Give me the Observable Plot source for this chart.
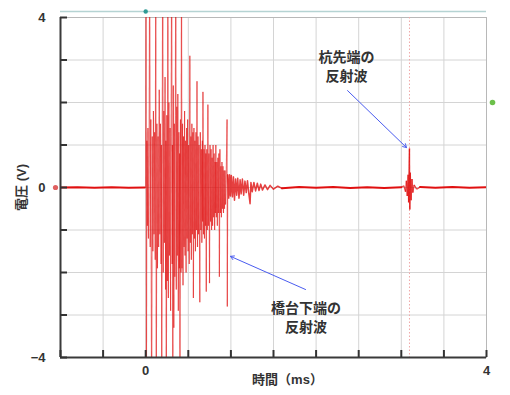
<!DOCTYPE html>
<html><head><meta charset="utf-8">
<script src="https://cdn.jsdelivr.net/npm/d3@7"></script>
<script src="https://cdn.jsdelivr.net/npm/@observablehq/plot@0.6"></script>
<style>body{margin:0;background:#fff} svg{display:block}</style>
</head><body><div id="chart"></div>
<script>
// time (ms), voltage (V)
const preTrigger = [[-1, 0], [-0.8, 0.005], [-0.6, -0.005], [-0.4, 0.005], [-0.2, -0.005], [-0.01, 0]];
const burst = [
  [0.000, 0], [0.004, 6], [0.008, -6], [0.014, 1.1], [0.020, -0.9], [0.026, 1.4], [0.032, -1.2], [0.040, 0.9], [0.047, 6], [0.053, -1.4], [0.060, 1.6], [0.070, -6], [0.077, 1.2], [0.084, -1.5], [0.091, 1.8], [0.098, -1.1],
  [0.105, 1.3], [0.112, -1.7], [0.118, 6], [0.124, -6], [0.131, 1.5], [0.138, -1.9], [0.145, 1.2], [0.152, -1.4], [0.159, 2.3], [0.166, -1.1], [0.173, 1.5], [0.180, -1.8], [0.184, 1.0], [0.188, -6], [0.194, 1.4], [0.200, 6], [0.206, -2.0],
  [0.213, 1.8], [0.220, -1.3], [0.227, 2.6], [0.234, -2.4], [0.237, 1.1], [0.242, -6], [0.248, 1.7], [0.254, -2.2], [0.260, 6], [0.266, -2.6], [0.272, 2.0], [0.279, -1.6], [0.286, 1.4], [0.292, -2.9], [0.298, 1.2],
  [0.305, 6], [0.311, -1.8], [0.314, 1.0], [0.318, -6], [0.324, 2.4], [0.330, -3.3], [0.336, 1.5], [0.342, -2.1], [0.348, 1.7], [0.353, 6], [0.359, -2.4], [0.365, 1.9], [0.371, -1.6], [0.377, 2.2], [0.383, -2.9], [0.389, 1.3], [0.395, -1.9], [0.398, 0.8], [0.402, -6], [0.408, 1.6], [0.414, -2.0], [0.420, 6], [0.426, -1.9],
  [0.432, 1.5], [0.438, -2.3], [0.444, 1.2], [0.450, -1.4], [0.456, 1.8], [0.462, -1.6], [0.468, 1.1], [0.474, -2.0], [0.480, 1.4], [0.486, -1.2], [0.492, 1.6], [0.498, -1.5], [0.504, 1.0], [0.511, -1.8], [0.518, 3.1], [0.524, -1.3], [0.530, 1.2], [0.536, -1.7], [0.542, 1.5], [0.548, -1.1], [0.554, 1.3], [0.560, -2.6], [0.566, 1.4], [0.572, -1.2], [0.578, 1.1], [0.584, -1.5], [0.590, 1.3], [0.596, -1.0], [0.602, 2.5], [0.608, -1.4],
  [0.614, 1.2], [0.620, -1.1], [0.626, 1.0], [0.635, -2.7], [0.641, 1.3], [0.647, -1.0], [0.653, 0.9], [0.659, -1.3], [0.665, 1.1], [0.668, -0.8], [0.672, 2.25], [0.678, -1.1], [0.684, 0.9], [0.690, -1.2], [0.696, 1.0], [0.702, -0.9], [0.706, 0.8], [0.711, -2.45], [0.717, 0.9], [0.723, -1.0], [0.730, 1.95], [0.736, -0.9], [0.742, 0.8], [0.749, -2.25], [0.755, 1.0], [0.761, -0.8], [0.767, 0.9], [0.773, -1.0], [0.779, 0.7], [0.785, -0.9], [0.791, 1.0], [0.797, -0.7],
  [0.803, 0.8], [0.809, -1.0], [0.815, 0.6], [0.818, -0.6], [0.823, 1.0], [0.829, -0.7], [0.835, 0.6], [0.841, -0.9], [0.847, 0.7], [0.853, -0.6], [0.859, 0.8], [0.865, -2.1], [0.871, 0.9], [0.877, -0.6], [0.883, 0.5], [0.889, -0.7], [0.895, 0.6], [0.901, -0.5], [0.907, 0.5], [0.913, -0.6], [0.919, 0.4], [0.925, -0.5], [0.931, 0.4], [0.937, -0.4], [0.945, 0.3], [0.955, 1.6], [0.958, -2.8], [0.963, 0.3]
];
const tail = [
  [0.963, 0.3], [0.975, -0.25], [0.985, 0.3], [0.995, -0.2], [1.005, 0.28], [1.018, -0.22], [1.03, 0.25], [1.042, -0.3], [1.055, 0.2], [1.068, -0.18], [1.08, 0.22], [1.095, -0.25], [1.108, 0.18], [1.12, -0.15], [1.135, 0.2], [1.15, -0.18], [1.165, 0.15], [1.18, -0.12], [1.195, 0.16], [1.21, -0.14], [1.225, -0.38], [1.235, 0.12], [1.25, -0.1], [1.27, 0.12], [1.29, -0.08], [1.31, 0.1], [1.33, -0.07], [1.35, 0.08], [1.37, -0.06], [1.40, 0.06], [1.43, -0.05], [1.46, 0.05], [1.50, -0.04], [1.55, 0.03], [1.60, -0.02]
];
const quietMid = [[1.60, -0.02], [1.8, 0.01], [2.0, -0.005], [2.2, 0.01], [2.4, -0.01], [2.6, 0.005], [2.8, -0.01], [3.0, 0.005]];
const echo = [
  [3.00, 0.005], [3.03, 0.04], [3.05, -0.1], [3.06, 0.16], [3.07, -0.2], [3.08, 0.3], [3.086, -0.35], [3.091, 0.45], [3.096, 0.92], [3.100, -0.52], [3.105, 0.35], [3.115, -0.3], [3.125, 0.2], [3.135, -0.12], [3.15, 0.06], [3.18, -0.04], [3.22, 0.01]
];
const quietEnd = [[3.22, 0.01], [3.4, -0.005], [3.6, 0.01], [3.8, -0.005], [4.0, 0.005]];

const xDomain = [-1, 4];
const yDomain = [-4, 4];
const xTicks = [-1, -0.5, 0, 0.5, 1, 1.5, 2, 2.5, 3, 3.5, 4];
const xTickLabels = [0, 4];
const yTicks = [-4, -3, -2, -1, 0, 1, 2, 3, 4];
const yTickLabels = [-4, 0, 4];
const xTitle = "時間（ms）";
const yTitle = "電圧 (V)";
const cursorTimes = [3.096];
const triggerTime = [0];
const triggerLevel = [2];
const groundLevel = [0];
const notes = [
  {t: 2.357, v: 2.87, text: "杭先端の\n反射波"},
  {t: 1.881, v: -3.035, text: "橋台下端の\n反射波"}
];
const arrows = [
  {t1: 2.369, v1: 2.28, t2: 3.061, v2: 0.94},
  {t1: 1.876, v1: -2.40, t2: 0.995, v2: -1.62}
];

const toRows = arr => arr.map(([t, v]) => ({t, v}));
const toSegments = arr => arr.slice(1).map(([t, v], i) => ({t1: arr[i][0], v1: arr[i][1], t2: t, v2: v}));
const fmtX = d => xTickLabels.includes(d) ? String(d) : "";
const fmtY = d => yTickLabels.includes(d) ? (d < 0 ? "\u2212" + Math.abs(d) : String(d)) : "";
const red = "#e01010";

const chart = Plot.plot({
  width: 510, height: 395,
  marginLeft: 60, marginRight: 24, marginTop: 17, marginBottom: 38,
  x: {domain: xDomain},
  y: {domain: yDomain},
  style: {fontFamily: "'Liberation Sans', 'Noto Sans CJK JP', sans-serif", fontSize: "13px", color: "#333", background: "#fff"},
  marks: [
    Plot.gridX(xTicks, {stroke: "#d4d4d4", strokeOpacity: 1}),
    Plot.gridY(yTicks, {stroke: "#d4d4d4", strokeOpacity: 1}),
    Plot.frame({stroke: "#b8b8b8"}),
    Plot.ruleX(cursorTimes, {stroke: "#f0a8a8", strokeDasharray: "1.5,2"}),
    Plot.line(toRows(preTrigger), {x: "t", y: "v", stroke: red, strokeWidth: 2, clip: true}),
    Plot.line(toRows(quietMid), {x: "t", y: "v", stroke: red, strokeWidth: 2, clip: true}),
    Plot.line(toRows(quietEnd), {x: "t", y: "v", stroke: red, strokeWidth: 2, clip: true}),
    Plot.line(toRows(tail), {x: "t", y: "v", stroke: red, strokeWidth: 1.5, strokeOpacity: 0.8, clip: true}),
    Plot.link(toSegments(burst), {x1: "t1", y1: "v1", x2: "t2", y2: "v2", stroke: red, strokeWidth: 1.1, strokeOpacity: 0.55, clip: true}),
    Plot.link(toSegments(echo), {x1: "t1", y1: "v1", x2: "t2", y2: "v2", stroke: red, strokeWidth: 1.3, strokeOpacity: 0.75, clip: true}),
    Plot.ruleX([xDomain[0]], {stroke: "#3a3a3a", strokeWidth: 2}),
    Plot.ruleY([yDomain[0]], {stroke: "#3a3a3a", strokeWidth: 2}),
    Plot.axisX(xTicks, {tickSize: -7, tickPadding: 15, tickFormat: fmtX, strokeWidth: 2, color: "#333", fontWeight: "bold", fontSize: 13, label: null}),
    Plot.axisY(yTicks, {tickSize: -7, tickPadding: 22, tickFormat: fmtY, strokeWidth: 2, color: "#333", fontWeight: "bold", fontSize: 13, label: yTitle, labelAnchor: "center", labelOffset: 44, labelArrow: "none"}),
    Plot.text([xTitle], {frameAnchor: "bottom", dy: 26, dx: 14, fontSize: 13, fill: "#333", fontWeight: "bold"}),
    // oscilloscope markers
    Plot.ruleY([yDomain[1]], {dy: -6, stroke: "#b5d3d3", strokeWidth: 1.5}),
    Plot.dot(triggerTime, {x: d => d, y: yDomain[1], dy: -6, r: 2.2, fill: "#2f9a95", stroke: null}),
    Plot.dot(triggerLevel, {x: xDomain[1], y: d => d, dx: 6, r: 2.8, fill: "#6cc04a", stroke: null}),
    Plot.dot(groundLevel, {x: xDomain[0], y: d => d, dx: -5, r: 2.6, fill: "#e06060", stroke: null}),
    // annotations
    Plot.arrow(arrows, {x1: "t1", y1: "v1", x2: "t2", y2: "v2", stroke: "#4a5cf0", strokeWidth: 1, headLength: 6}),
    Plot.text(notes, {x: "t", y: "v", text: "text", fontSize: 14, lineHeight: 1.35, fill: "#333", fontWeight: "bold"})
  ]
});
document.getElementById("chart").append(chart);
</script>
</body></html>
